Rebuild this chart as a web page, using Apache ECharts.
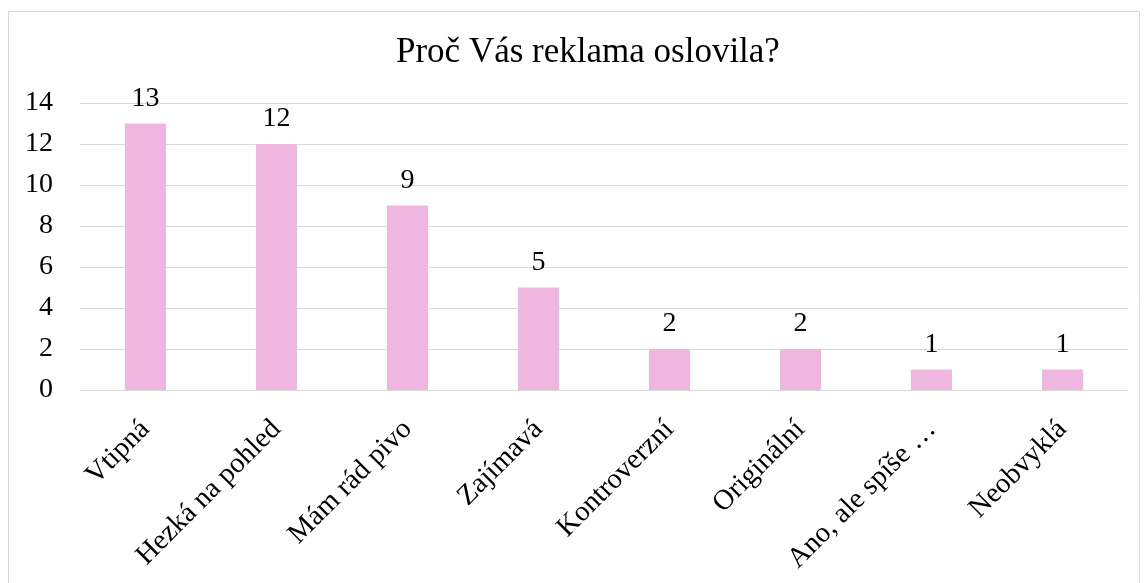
<!DOCTYPE html>
<html><head><meta charset="utf-8">
<script src="https://cdn.jsdelivr.net/npm/echarts@6/dist/echarts.min.js"></script>
<style>html,body{margin:0;padding:0;background:#fff}#c{width:1147px;height:583px}</style>
</head><body><div id="c"></div>
<script>
const title = 'Proč Vás reklama oslovila?';
const categories = ['Vtipná','Hezká na pohled','Mám rád pivo','Zajímavá','Kontroverzní','Originální','Ano, ale spíše …','Neobvyklá'];
const values = [13,12,9,5,2,2,1,1];
const yTicks = {min:0, max:14, interval:2};
const font = '"Liberation Serif","Times New Roman",serif';
const chart = echarts.init(document.getElementById('c'));
chart.setOption({
  animation:false,
  title:{text:title,left:391,top:30,textStyle:{fontFamily:font,fontSize:35,fontWeight:'normal',color:'#000'}},
  graphic:[{type:'rect',shape:{x:8.5,y:11.5,width:1131,height:580},style:{fill:'none',stroke:'#D9D9D9',lineWidth:1},silent:true}],
  grid:{left:80,right:19,top:103,bottom:193,containLabel:false},
  xAxis:{type:'category',data:categories,
    axisLine:{lineStyle:{color:'#D9D9D9',width:1}},axisTick:{show:false},
    axisLabel:{rotate:45,interval:0,margin:35,color:'#000',fontFamily:font,fontSize:28.5}},
  yAxis:{type:'value',min:yTicks.min,max:yTicks.max,interval:yTicks.interval,
    axisLine:{show:false},axisTick:{show:false},
    splitLine:{lineStyle:{color:'#D9D9D9',width:1}},
    axisLabel:{margin:27,color:'#000',fontFamily:font,fontSize:28}},
  series:[{type:'bar',data:values,barWidth:41,itemStyle:{color:'#EFB7DF'},
    label:{show:true,position:'top',distance:11,color:'#000',fontFamily:font,fontSize:28}}]
});
</script></body></html>
